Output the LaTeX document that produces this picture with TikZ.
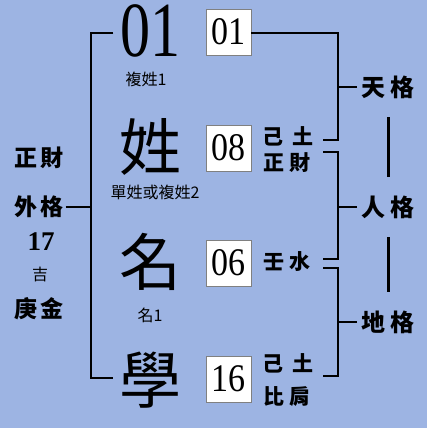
\documentclass[tikz,border=0pt]{standalone}
\usepackage{fontspec}
\setmainfont{Liberation Serif}
\newfontfamily\cjk{Noto Sans CJK TC}
\usetikzlibrary{positioning}
\definecolor{bgblue}{RGB}{157,180,227}
\definecolor{boxgray}{RGB}{128,128,128}

\begin{document}
\begin{tikzpicture}[x=1pt, y=-1pt, line width=1.1pt,
    bigchar/.style={inner sep=0pt, minimum width=72pt, font=\cjk\fontsize{62}{62}\selectfont},
    caption/.style={inner sep=0pt, font=\cjk\fontsize{16}{16}\selectfont},
    numbox/.style={draw=boxgray, fill=white, line width=0.8pt, minimum width=45pt, minimum height=46pt, inner sep=0pt, font=\fontsize{34}{34}\selectfont},
    wuxing/.style={inner sep=0pt, font=\cjk\bfseries\fontsize{21}{21}\selectfont},
    gename/.style={inner xsep=4pt, inner ysep=0pt, anchor=west, font=\cjk\bfseries\fontsize{24}{24}\selectfont},
    leftcol/.style={inner xsep=1pt, inner ysep=0pt, font=\cjk\bfseries\fontsize{23}{23}\selectfont},
    sepline/.style={line width=3pt, shorten <=30pt, shorten >=30pt}]
  \fill[bgblue] (0,0) rectangle (427,428);
  \useasboundingbox (0,0) rectangle (427,428);

  % name characters
  \node[bigchar, font=\fontsize{60}{60}\selectfont] (c1) at (150,31) {\scalebox{1}[1.3]{01}};
  \node[bigchar] (c2) at (150,147) {姓};
  \node[bigchar] (c3) at (150,262) {名};
  \node[bigchar] (c4) at (150,380) {學};
  \node[caption] (n1) at (146,79) {複姓1};
  \node[caption] (n2) at (155,192) {單姓或複姓2};
  \node[caption] (n3) at (150,315) {名1};

  % strokes
  \node[numbox] (b1) at (228.5,32) {\scalebox{1}[1.15]{01}};
  \node[numbox] (b2) at (228.5,148) {\scalebox{1}[1.15]{08}};
  \node[numbox] (b3) at (228.5,263) {\scalebox{1}[1.15]{06}};
  \node[numbox] (b4) at (228.5,379) {\scalebox{1}[1.15]{16}};

  \node[wuxing] (w2a) at (288,136) {己\hspace{9pt}土};
  \node[wuxing] (w2b) at (287,163) {正\hspace{6pt}財};
  \node[wuxing] (w3) at (287,262) {壬\hspace{6pt}水};
  \node[wuxing] (w4a) at (288,363) {己\hspace{9pt}土};
  \node[wuxing] (w4b) at (287,397) {比\hspace{6pt}肩};

  % left column
  \node[leftcol] (lz) at (39,158) {正\hspace{4pt}財};
  \node[leftcol] (wai) at (39,207) {外\hspace{4pt}格};
  \node[leftcol, font=\bfseries\fontsize{27}{27}\selectfont] (num) at (41,242) {17};
  \node[leftcol, font=\cjk\fontsize{16}{16}\selectfont] (ji) at (40,274) {吉};
  \node[leftcol] (gj) at (39,309) {庚\hspace{4pt}金};

  % right column
  \node[gename] (tian) at (357,87) {天\hspace{5pt}格};
  \node[gename] (ren) at (357,207) {人\hspace{5pt}格};
  \node[gename] (di) at (357,322) {地\hspace{5pt}格};

  \coordinate (lbar) at (91,0);
  \coordinate (rbar) at (338,0);
  \coordinate (r2u) at (323,140);
  \coordinate (r2d) at (323,152);
  \coordinate (r3u) at (323,259);
  \coordinate (r3d) at (323,268);
  \coordinate (r4) at (323,376);

  \draw (c1.west |- 0,33) -- (lbar |- 0,33) |- (c4.west |- 0,378);
  \draw (wai.east) -- (wai.east -| lbar);

  \draw (b1.east |- 0,33) -| (rbar |- r2u) -- (r2u);
  \draw (r2d) -| (rbar |- r3u) -- (r3u);
  \draw (r3d) -| (rbar |- r4) -- (r4);
  \draw (tian.west) -- (tian.west -| rbar);
  \draw (ren.west) -- (ren.west -| rbar);
  \draw (di.west) -- (di.west -| rbar);

  \draw[sepline] (tian.center) -- (ren.center);
  \draw[sepline] (ren.center) -- (di.center);
\end{tikzpicture}
\end{document}
